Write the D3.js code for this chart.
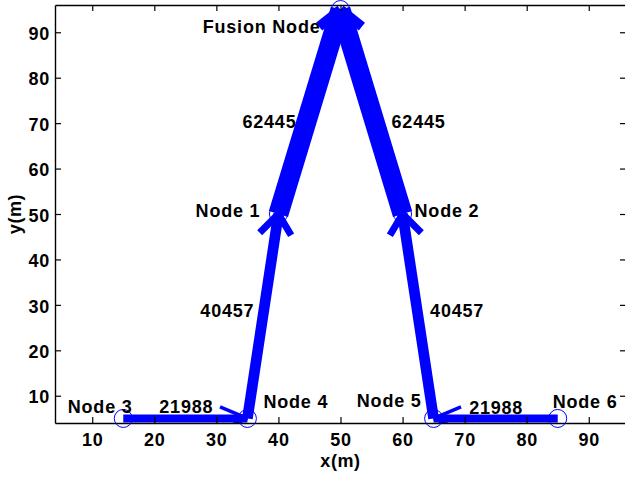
<!DOCTYPE html>
<html>
<head>
<meta charset="utf-8">
<script src="https://cdn.jsdelivr.net/npm/d3@7"></script>
<style>
  html, body { margin: 0; padding: 0; background: #fff; }
  svg { display: block; }
  text { font-family: "Liberation Sans", Arial, Helvetica, sans-serif; font-weight: bold; fill: #000; }
</style>
</head>
<body>
<svg id="chart" width="625" height="477"></svg>
<script>
// Sensor network: node coordinates (metres)
const nodeNames = ["Fusion Node", "Node 1", "Node 2", "Node 3", "Node 4", "Node 5", "Node 6"];
const nodeX = [50, 40, 60, 15, 35, 65, 85];
const nodeY = [95, 50, 50, 5, 5, 5, 5];

// Data flows between nodes (index into the node arrays) and their volumes
const edgeFrom = [3, 4, 1, 6, 5, 2];
const edgeTo = [4, 1, 0, 5, 2, 0];
const edgeValue = [21988, 40457, 62445, 21988, 40457, 62445];

// Axis ticks
const xTicks = [10, 20, 30, 40, 50, 60, 70, 80, 90];
const yTicks = [10, 20, 30, 40, 50, 60, 70, 80, 90];
const xDomain = [4, 96];
const yDomain = [4, 96];

// ---- layout ----
const plot = { left: 55, right: 626, top: 5, bottom: 423 };
const blue = "#0000ff";

const svg = d3.select("#chart");
const x = d3.scaleLinear().domain(xDomain).range([plot.left, plot.right]);
const y = d3.scaleLinear().domain(yDomain).range([plot.bottom, plot.top]);

// line widths grow with the flow volume
const levels = Array.from(new Set(edgeValue)).sort((a, b) => a - b);
const shaftWidth = d3.scaleLinear().domain(levels).range([8, 10.7, 20]);
const headWidth = d3.scaleLinear().domain(levels).range([3.5, 7, 10]);
const headLength = 5.1;              // arrow barb length, data units
const headAngle = 30 * Math.PI / 180; // barb spread

svg.append("defs").append("clipPath").attr("id", "plotClip")
  .append("rect")
  .attr("x", plot.left).attr("y", plot.top)
  .attr("width", plot.right - plot.left).attr("height", plot.bottom - plot.top);

const edges = edgeFrom.map((f, i) => ({
  x1: nodeX[f], y1: nodeY[f], x2: nodeX[edgeTo[i]], y2: nodeY[edgeTo[i]], value: edgeValue[i]
}));

const marks = svg.append("g").attr("clip-path", "url(#plotClip)");

// shafts
marks.selectAll("line.shaft").data(edges).join("line")
  .attr("class", "shaft")
  .attr("x1", d => x(d.x1)).attr("y1", d => y(d.y1))
  .attr("x2", d => x(d.x2)).attr("y2", d => y(d.y2))
  .attr("stroke", blue)
  .attr("stroke-width", d => shaftWidth(d.value))
  .attr("stroke-linecap", "butt");

// arrow heads: two barbs at the target, built in data space
const barbs = [];
edges.forEach(d => {
  const dx = d.x1 - d.x2, dy = d.y1 - d.y2;
  const len = Math.hypot(dx, dy);
  const ux = dx / len, uy = dy / len;
  [-1, 1].forEach(s => {
    const a = s * headAngle;
    const rx = ux * Math.cos(a) - uy * Math.sin(a);
    const ry = ux * Math.sin(a) + uy * Math.cos(a);
    barbs.push({ x1: d.x2, y1: d.y2, x2: d.x2 + headLength * rx, y2: d.y2 + headLength * ry, value: d.value });
  });
});
marks.selectAll("line.barb").data(barbs).join("line")
  .attr("class", "barb")
  .attr("x1", d => x(d.x1)).attr("y1", d => y(d.y1))
  .attr("x2", d => x(d.x2)).attr("y2", d => y(d.y2))
  .attr("stroke", blue)
  .attr("stroke-width", d => headWidth(d.value))
  .attr("stroke-linecap", "butt");

// axes box
const axisG = svg.append("g");
const bottomAxis = d3.axisBottom(x).tickValues(xTicks).tickSizeInner(-6).tickSizeOuter(0).tickPadding(10);
const topAxis = d3.axisTop(x).tickValues(xTicks).tickSizeInner(-6).tickSizeOuter(0).tickFormat("");
const leftAxis = d3.axisLeft(y).tickValues(yTicks).tickSizeInner(-6).tickSizeOuter(0).tickPadding(5);
const rightAxis = d3.axisRight(y).tickValues(yTicks).tickSizeInner(-6).tickSizeOuter(0).tickFormat("");

function styleAxis(g) {
  g.select(".domain").attr("stroke", "#000").attr("stroke-width", 1.4);
  g.selectAll(".tick line").attr("stroke", "#000").attr("stroke-width", 1.2);
  g.selectAll(".tick text")
    .attr("font-size", 18).attr("font-family", null)
    .style("letter-spacing", "0.8px");
}
axisG.append("g").attr("transform", `translate(0,${plot.bottom})`).call(bottomAxis).call(styleAxis)
  .selectAll(".tick text").attr("dy", "0.71em");
axisG.append("g").attr("transform", `translate(0,${plot.top})`).call(topAxis).call(styleAxis);
axisG.append("g").attr("transform", `translate(${plot.left},0)`).call(leftAxis).call(styleAxis)
  .selectAll(".tick text").attr("dy", "0.4em");
axisG.append("g").attr("transform", `translate(${plot.right},0)`).call(rightAxis).call(styleAxis);

// node markers
svg.append("g").selectAll("circle").data(nodeNames).join("circle")
  .attr("cx", (d, i) => x(nodeX[i])).attr("cy", (d, i) => y(nodeY[i]))
  .attr("r", 9)
  .attr("fill", "none").attr("stroke", blue).attr("stroke-width", 1);

// node labels: pixel offsets from each node
const nodeLabelPlacement = [
  { dx: -20, dy: 23.5, anchor: "end" },
  { dx: -18, dy: 3, anchor: "end" },
  { dx: 12, dy: 3, anchor: "start" },
  { dx: -55.5, dy: -5.5, anchor: "start" },
  { dx: 16, dy: -10.5, anchor: "start" },
  { dx: -12, dy: -11.5, anchor: "end" },
  { dx: -5, dy: -10, anchor: "start" }
];
svg.append("g").selectAll("text").data(nodeNames).join("text")
  .attr("x", (d, i) => x(nodeX[i]) + nodeLabelPlacement[i].dx)
  .attr("y", (d, i) => y(nodeY[i]) + nodeLabelPlacement[i].dy)
  .attr("text-anchor", (d, i) => nodeLabelPlacement[i].anchor)
  .attr("font-size", 18)
  .style("letter-spacing", "0.8px")
  .text(d => d);

// flow labels: pixel offsets from each edge midpoint
const edgeLabelPlacement = [
  { dx: 1, dy: -5, anchor: "middle" },
  { dx: -8.5, dy: 0.5, anchor: "end" },
  { dx: -13, dy: 16, anchor: "end" },
  { dx: 0.5, dy: -4.5, anchor: "middle" },
  { dx: 12, dy: 0.5, anchor: "start" },
  { dx: 20, dy: 16, anchor: "start" }
];
svg.append("g").selectAll("text").data(edges).join("text")
  .attr("x", (d, i) => x((d.x1 + d.x2) / 2) + edgeLabelPlacement[i].dx)
  .attr("y", (d, i) => y((d.y1 + d.y2) / 2) + edgeLabelPlacement[i].dy)
  .attr("text-anchor", (d, i) => edgeLabelPlacement[i].anchor)
  .attr("font-size", 18)
  .style("letter-spacing", "0.8px")
  .text(d => d.value);

// axis titles
svg.append("text")
  .attr("x", (plot.left + plot.right) / 2).attr("y", 467)
  .attr("text-anchor", "middle").attr("font-size", 18)
  .style("letter-spacing", "0.6px")
  .text("x(m)");
svg.append("text")
  .attr("transform", `translate(21,${(plot.top + plot.bottom) / 2}) rotate(-90)`)
  .attr("text-anchor", "middle").attr("font-size", 18)
  .style("letter-spacing", "0.6px")
  .text("y(m)");
</script>
</body>
</html>
